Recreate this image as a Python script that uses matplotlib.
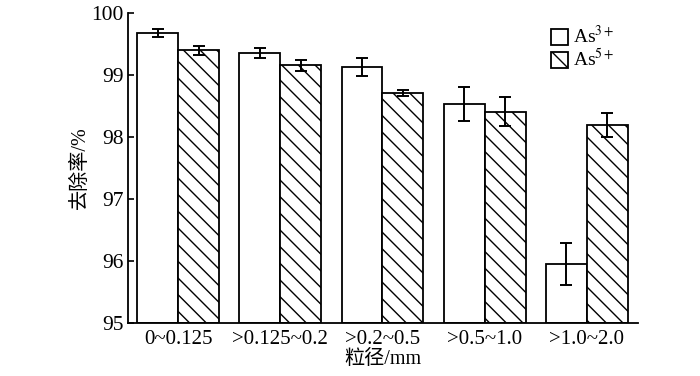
import matplotlib
matplotlib.use('Agg')
import matplotlib.pyplot as plt
import numpy as np

# 数据
categories = ['0~0.125', '>0.125~0.2', '>0.2~0.5', '>0.5~1.0', '>1.0~2.0']
as3_vals = [99.68, 99.35, 99.13, 98.53, 95.95]
as3_err = [0.06, 0.08, 0.15, 0.27, 0.34]
as5_vals = [99.40, 99.16, 98.71, 98.41, 98.19]
as5_err = [0.07, 0.09, 0.05, 0.24, 0.19]

plt.rcParams['font.family'] = ['Liberation Serif', 'Noto Sans CJK SC']
plt.rcParams['hatch.linewidth'] = 1.0
plt.rcParams['mathtext.fontset'] = 'stix'

fig = plt.figure(figsize=(7, 3.76), dpi=100)
ax = fig.add_axes([128 / 700, 1 - 323 / 376, 510 / 700, 310 / 376])

x = np.arange(len(categories))
w = 0.4
ax.bar(x - w / 2, np.array(as3_vals) - 95, w, bottom=95, color='white',
       edgecolor='black', linewidth=1.3, label='As$^{3+}$')
ax.bar(x + w / 2, np.array(as5_vals) - 95, w, bottom=95, color='white',
       edgecolor='black', linewidth=1.3, hatch='\\\\', label='As$^{5+}$')
ax.errorbar(x - w / 2, as3_vals, yerr=as3_err, fmt='none', ecolor='black',
            elinewidth=1.4, capsize=4.5, capthick=1.4)
ax.errorbar(x + w / 2, as5_vals, yerr=as5_err, fmt='none', ecolor='black',
            elinewidth=1.4, capsize=4.5, capthick=1.4)

ax.set_ylim(95, 100)
ax.set_xlim(-0.49, 4.5)
ax.set_yticks([95, 96, 97, 98, 99, 100])
ax.set_xticks(x)
ax.set_xticklabels(categories)
ax.tick_params(axis='y', direction='in', length=4, width=1.2, labelsize=15.5, pad=3)
ax.tick_params(axis='x', length=0, labelsize=15, pad=5)
for s in ['top', 'right']:
    ax.spines[s].set_visible(False)
for s in ['left', 'bottom']:
    ax.spines[s].set_linewidth(1.3)

ax.set_ylabel('去除率/%', fontsize=14.5, labelpad=1)
ax.set_xlabel('粒径/mm', fontsize=14.5, labelpad=1)

ax.legend(loc='upper left', bbox_to_anchor=(0.83, 0.96), frameon=False,
          fontsize=14, handlelength=0.85, handleheight=0.85, handletextpad=0.25,
          labelspacing=0.05, borderaxespad=0, borderpad=0)

fig.savefig('out.png', dpi=100)
